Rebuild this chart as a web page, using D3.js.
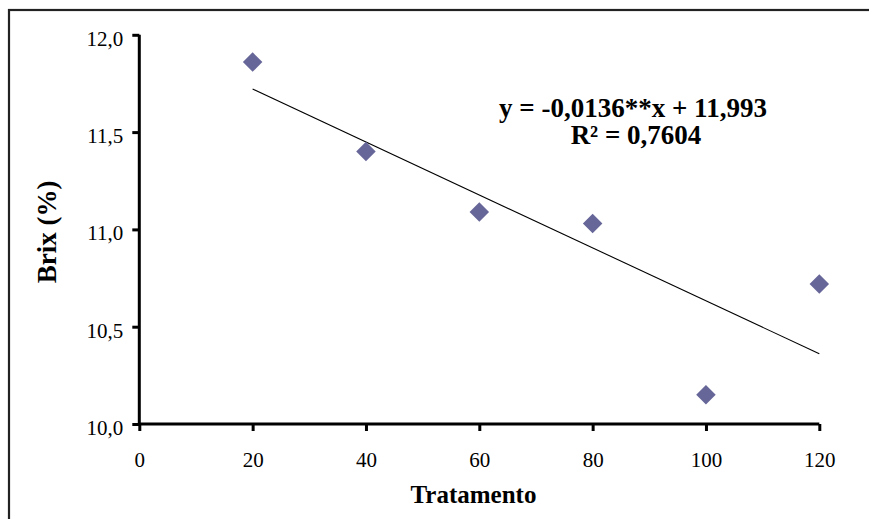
<!DOCTYPE html>
<html>
<head>
<meta charset="utf-8">
<script src="https://cdn.jsdelivr.net/npm/d3@7"></script>
<style>
  html, body { margin: 0; padding: 0; background: #fff; overflow: hidden; }
  svg { display: block; }
</style>
</head>
<body>
<svg id="chart" width="869" height="519"></svg>
<script>
// ---- data ----
const tratamento = [20, 40, 60, 80, 100, 120];
const brix = [11.86, 11.40, 11.09, 11.03, 10.15, 10.72];
const xTicks = [0, 20, 40, 60, 80, 100, 120];
const yTicks = [10.0, 10.5, 11.0, 11.5, 12.0];
const trendSlope = -0.0136;
const trendIntercept = 11.993;
const trendRange = [20, 120];
const equationLines = ["y = -0,0136**x + 11,993", "R² = 0,7604"];
const xTitle = "Tratamento";
const yTitle = "Brix (%)";

const svg = d3.select("#chart");
const font = "'Liberation Serif', 'Times New Roman', serif";

// outer frame (only left/top visible in reference)
svg.append("rect")
  .attr("x", 9).attr("y", 10)
  .attr("width", 1200).attr("height", 1000)
  .attr("fill", "none").attr("stroke", "#222").attr("stroke-width", 2.2);

const x = d3.scaleLinear().domain([0, 120]).range([139.3, 819.3]);
const y = d3.scaleLinear().domain([10, 12]).range([424, 34.8]);

const fmt = d => d.toFixed(1).replace(".", ",");

// y axis
const yAxis = svg.append("g")
  .attr("transform", `translate(${x(0)},0)`)
  .call(d3.axisLeft(y).tickValues(yTicks).tickFormat(fmt).tickSize(7).tickPadding(9));
// x axis
const xAxis = svg.append("g")
  .attr("transform", `translate(0,${y(10)})`)
  .call(d3.axisBottom(x).tickValues(xTicks).tickFormat(d3.format("d")).tickSize(7).tickPadding(21));

[xAxis, yAxis].forEach(g => {
  g.select(".domain").attr("stroke", "#000").attr("stroke-width", 3)
  g.selectAll(".tick line").attr("stroke", "#000").attr("stroke-width", 3);
  g.selectAll(".tick text").attr("fill", "#000")
    .style("font-family", font).style("font-size", "21px");
});
yAxis.select(".domain").attr("d", `M0,${y(12)}V${y(10)}`);
xAxis.select(".domain").attr("d", `M${x(0)},0H${x(120)}`);
yAxis.selectAll(".tick text").attr("dy", "0.5em");

// trend line
const line = d3.line().x(d => x(d)).y(d => y(trendSlope * d + trendIntercept));
svg.append("path")
  .datum(trendRange)
  .attr("d", line)
  .attr("fill", "none").attr("stroke", "#000").attr("stroke-width", 1.1);

// markers (diamonds)
const diamond = d3.symbol().type(d3.symbolSquare).size(190);
svg.append("g").selectAll("path")
  .data(tratamento.map((t, i) => ({ t, v: brix[i] })))
  .join("path")
  .attr("d", diamond)
  .attr("transform", d => `translate(${x(d.t)},${y(d.v)}) rotate(45)`)
  .attr("fill", "#666699");

// equation text
svg.append("g").selectAll("text")
  .data(equationLines)
  .join("text")
  .attr("x", (d, i) => i === 0 ? 633 : 636)
  .attr("y", (d, i) => 117 + i * 26.5)
  .attr("text-anchor", "middle")
  .style("font-family", font).style("font-weight", "bold").style("font-size", "27px")
  .text(d => d);

// axis titles
svg.append("text")
  .attr("x", 473.5).attr("y", 503)
  .attr("text-anchor", "middle")
  .style("font-family", font).style("font-weight", "bold").style("font-size", "25px")
  .text(xTitle);

svg.append("text")
  .attr("transform", "translate(56,232) rotate(-90)")
  .attr("text-anchor", "middle")
  .style("font-family", font).style("font-weight", "bold").style("font-size", "27px")
  .text(yTitle);
</script>
</body>
</html>
